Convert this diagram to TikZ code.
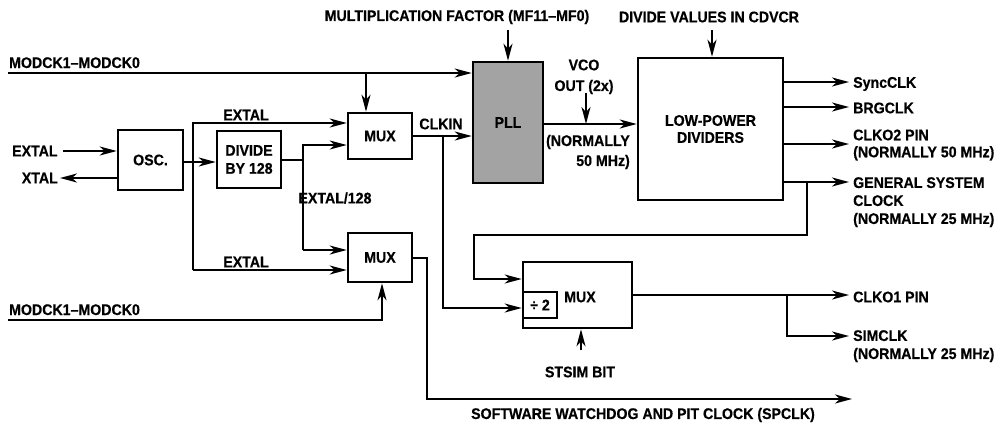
\documentclass[tikz,border=0pt]{standalone}
\usepackage{fontspec}
\newfontfamily\diagfont{Liberation Sans Bold}[FakeStretch=0.92,FakeBold=0.5]
\usetikzlibrary{arrows.meta}
\begin{document}
\begin{tikzpicture}[x=1pt,y=-1pt,
  every node/.style={font=\fontsize{15.4}{17}\selectfont\diagfont, inner sep=0pt},
  blk/.style={draw, line width=2.6pt, align=center},
  wire/.style={line width=2pt},
  arr/.style={wire, -{Stealth[length=17pt,width=9pt,inset=5pt]}},
  lbl/.style={align=left},
]
\useasboundingbox (0,0) rectangle (998,424);

% blocks
\node[blk, minimum width=65pt, minimum height=60pt] (osc) at (150.5,160) {OSC.};
\node[blk, minimum width=64pt, minimum height=57pt] (div) at (249,159.5) {DIVIDE\\[1pt]BY 128};
\node[blk, minimum width=64pt, minimum height=46pt] (mux1) at (380,136) {MUX};
\node[blk, minimum width=64pt, minimum height=49pt] (mux2) at (380,257.5) {MUX};
\node[blk, fill=black!36, minimum width=70pt, minimum height=121pt] (pll) at (508,122.5) {PLL};
\node[blk, minimum width=145pt, minimum height=142pt] (lpd) at (710.5,129) {LOW-POWER\\DIVIDERS};
\node[blk, minimum width=109pt, minimum height=66pt] (mux3) at (577.5,295) {};
\node[blk, line width=2pt, minimum width=34pt, minimum height=26pt] (half) at (540,305) {÷ 2};
\node (mux3lbl) at (580,297) {MUX};

% texts
\node[anchor=base west] (tmodtop) at (9,68) {MODCK1–MODCK0};
\node[anchor=base west] (tmodbot) at (9,315) {MODCK1–MODCK0};
\node (tmf) at (457,17) {MULTIPLICATION FACTOR (MF11–MF0)};
\node (tcd) at (709,17) {DIVIDE VALUES IN CDVCR};
\node[anchor=west] (textalin) at (12,151) {EXTAL};
\node[anchor=east] (txtal) at (58,178) {XTAL};
\node (textal1) at (246,115) {EXTAL};
\node (textal2) at (246,262) {EXTAL};
\node (textal128) at (335,198) {EXTAL/128};
\node (tclkin) at (441,124) {CLKIN};
\node (tvco) at (584,65) {VCO};
\node (tvco2) at (584,87) {OUT (2x)};
\node[anchor=east, align=right] (tnorm) at (630,152) {(NORMALLY\\[3pt]50 MHz)};
\node (tstsim) at (580,372) {STSIM BIT};
\node (tsw) at (643,415) {SOFTWARE WATCHDOG AND PIT CLOCK (SPCLK)};
\node[anchor=west] (tsync) at (853,84) {SyncCLK};
\node[anchor=west] (tbrg) at (853,108) {BRGCLK};
\node[anchor=west, lbl] (tclko2) at (853,145) {CLKO2 PIN\\(NORMALLY 50 MHz)};
\node[anchor=north west, lbl] (tgsc) at (853,177) {GENERAL SYSTEM\\[1pt]CLOCK\\[1pt](NORMALLY 25 MHz)};
\node[anchor=west] (tclko1) at (853,297) {CLKO1 PIN};
\node[anchor=north west, lbl] (tsim) at (853,330) {SIMCLK\\[1pt](NORMALLY 25 MHz)};

% coordinates
\coordinate (modtop) at (8,73);
\coordinate (jm1) at (366,73);
\coordinate (extalin) at (63,151);
\coordinate (xtalout) at (60,178);
\coordinate (jo) at (193,162);
\coordinate (je1) at (193,123);
\coordinate (je2) at (193,270);
\coordinate (jd) at (303,160);
\coordinate (jd1) at (303,145);
\coordinate (jd2) at (303,250);
\coordinate (modbot) at (8,320);
\coordinate (jmb) at (382,320);
\coordinate (jc) at (443,136);
\coordinate (jc2) at (443,308);
\coordinate (mf) at (508,30);
\coordinate (vco) at (586,124);
\coordinate (vcot) at (586,93);
\coordinate (cd) at (712,30);
\coordinate (o1) at (849,82);
\coordinate (o2) at (849,107);
\coordinate (o3) at (849,144);
\coordinate (o4) at (849,182);
\coordinate (jg) at (807,182);
\coordinate (jg2) at (807,235);
\coordinate (jg3) at (474,235);
\coordinate (jg4) at (474,279);
\coordinate (st) at (581,350);
\coordinate (c1) at (849,295);
\coordinate (jx) at (787,295);
\coordinate (c2) at (849,336);
\coordinate (jw1) at (427,258);
\coordinate (jw2) at (427,399);
\coordinate (sw) at (852,399);

% connectors
\draw[arr] (modtop) -- (modtop -| pll.west);
\draw[arr] (jm1) -- (jm1 |- mux1.north);
\draw[arr] (extalin) -- (extalin -| osc.west);
\draw[arr] (xtalout -| osc.west) -- (xtalout);
\draw[arr] (jo -| osc.east) -- (jo -| div.west);
\draw[arr] (je2) -- (je1) -- (je1 -| mux1.west);
\draw[arr] (je2) -- (je2 -| mux2.west);
\draw[wire] (jd -| div.east) -- (jd);
\draw[arr] (jd2) -- (jd1) -- (jd1 -| mux1.west);
\draw[arr] (jd2) -- (jd2 -| mux2.west);
\draw[arr] (modbot) -- (jmb) -- (jmb |- mux2.south);
\draw[arr] (mux1.east) -- (mux1.east -| pll.west);
\draw[arr] (jc) -- (jc2) -- (jc2 -| mux3.west);
\draw[arr] (mf) -- (pll.north);
\draw[arr] (vco -| pll.east) -- (vco -| lpd.west);
\draw[arr] (vcot) -- (vco);
\draw[arr] (cd) -- (cd |- lpd.north);
\draw[arr] (o1 -| lpd.east) -- (o1);
\draw[arr] (o2 -| lpd.east) -- (o2);
\draw[arr] (o3 -| lpd.east) -- (o3);
\draw[arr] (o4 -| lpd.east) -- (o4);
\draw[arr] (jg) -- (jg2) -- (jg3) -- (jg4) -- (jg4 -| mux3.west);
\draw[arr] (st) -- (st |- mux3.south);
\draw[arr] (c1 -| mux3.east) -- (c1);
\draw[arr] (jx) -- (jx |- c2) -- (c2);
\draw[arr] (jw1 -| mux2.east) -- (jw1) -- (jw2) -- (sw);
\end{tikzpicture}
\end{document}
